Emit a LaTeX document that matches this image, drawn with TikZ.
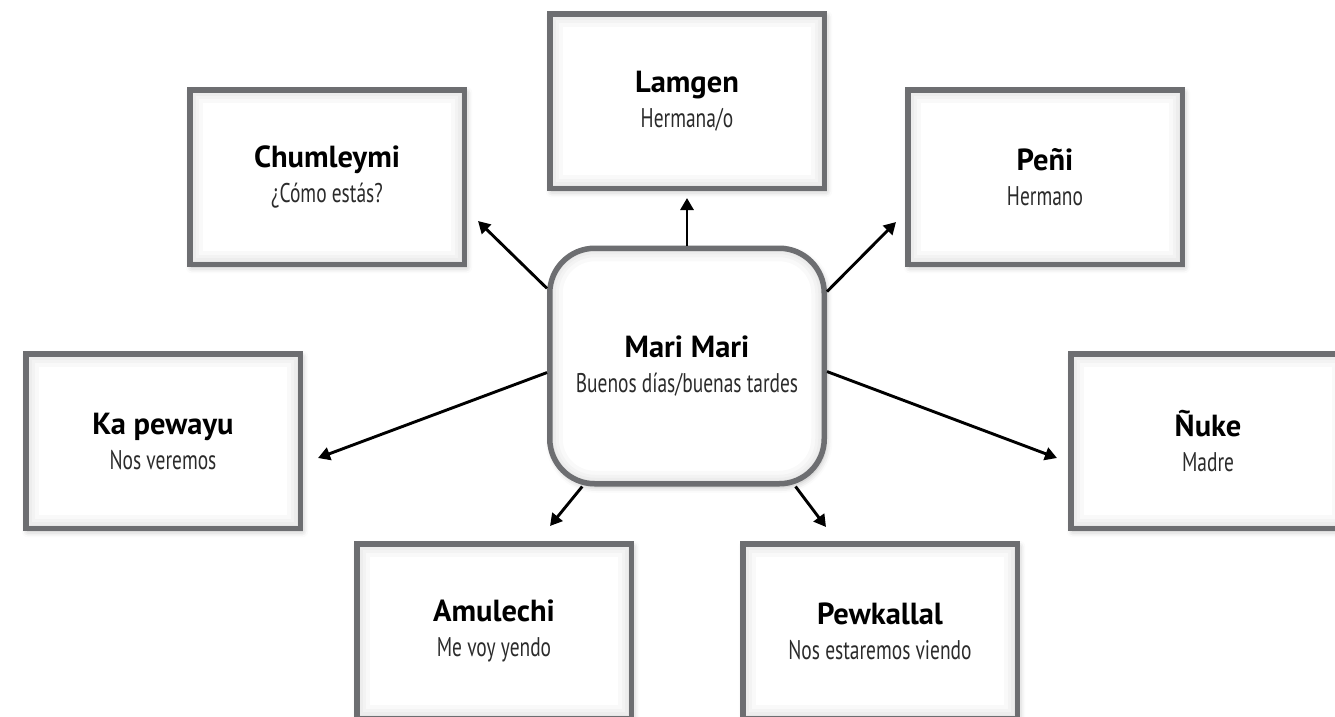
\documentclass[tikz,border=0pt]{standalone}
\usepackage{fontspec}
\setmainfont{PT Sans}
\newfontfamily\narrowfont[FakeStretch=0.72]{PT Sans}
\usetikzlibrary{arrows.meta,shadows.blur}

\definecolor{frame}{HTML}{6D6E71}
\definecolor{subtext}{HTML}{2B2B2B}

\newcommand{\ttl}{\bfseries\fontsize{30.5}{35}\selectfont}
\newcommand{\sbt}{\narrowfont\fontsize{27}{35}\selectfont\color{subtext}}

\tikzset{
  glow/.style={
    path picture={
      \foreach \w in {26,18,12,7}
        \draw[black, opacity=0.025, line width=\w pt, rounded corners=#1]
          (path picture bounding box.south west) rectangle
          (path picture bounding box.north east);
    }},
  card/.style={
    draw=frame, line width=5.5pt, fill=white, align=center,
    font=\fontsize{27}{35}\selectfont,
    minimum width=274.5pt, minimum height=174.5pt, inner sep=0pt,
    glow=0pt,
    blur shadow={shadow xshift=2pt, shadow yshift=-3pt,
                 shadow blur radius=6pt, shadow opacity=28}},
  hub/.style={card, rounded corners=45pt, glow=45pt,
    minimum width=274.5pt, minimum height=235.5pt},
  link/.style={line width=2.9pt, -{Triangle[length=12pt,width=13pt]}}
}

\begin{document}
\begin{tikzpicture}[x=1pt,y=-1pt]
\useasboundingbox (0,0) rectangle (1335,716);

% word cards around the greeting
\node[card] (lamgen) at (687,101) {{\ttl Lamgen}\\{\sbt Hermana/o}};
\node[card] (chum)   at (327,177) {{\ttl Chumleymi}\\{\sbt ¿Cómo estás?}};
\node[card] (peni)   at (1045,177) {{\ttl Peñi}\\{\sbt Hermano}};
\node[card] (kapew)  at (163,441) {{\ttl Ka pewayu}\\{\sbt Nos veremos}};
\node[card] (nuke)   at (1208,441) {{\ttl Ñuke}\\{\sbt Madre}};
\node[card] (amul)   at (494,631) {{\ttl Amulechi}\\{\sbt Me voy yendo}};
\node[card] (pewk)   at (880,631) {{\ttl Pewkallal}\\{\sbt Nos estaremos viendo}};

% central greeting
\node[hub] (mari) at (687,366) {{\ttl Mari Mari}\\{\sbt Buenos días/buenas tardes}};

% arrow tips, each just short of its card
\coordinate (t-lamgen) at (687,198);
\coordinate (t-chum)   at (478,221);
\coordinate (t-peni)   at (896,222);
\coordinate (t-kapew)  at (318,458);
\coordinate (t-nuke)   at (1057,458);
\coordinate (t-amul)   at (550,526);
\coordinate (t-pewk)   at (826,527);

\draw[link] (mari.north) -- (t-lamgen);
\draw[link] (mari.151.6) -- (t-chum);
\draw[link] (mari.28.4)  -- (t-peni);
\draw[link] (mari.179) ++(0,9) -- (t-kapew);
\draw[link] (mari.1) ++(0,8) -- (t-nuke);
\draw[link] (mari.-131) -- (t-amul);
\draw[link] (mari.-48.2) -- (t-pewk);
\end{tikzpicture}
\end{document}
